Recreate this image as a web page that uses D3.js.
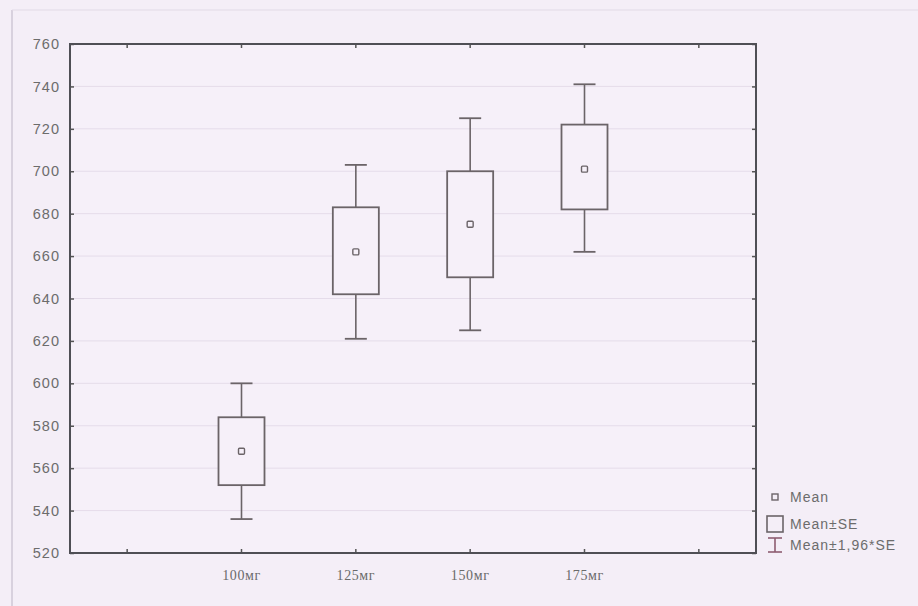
<!DOCTYPE html>
<html>
<head>
<meta charset="utf-8">
<script src="https://cdn.jsdelivr.net/npm/d3@7/dist/d3.min.js"></script>
<style>
  body { margin: 0; background: #f4eef7; }
  svg { display: block; }
</style>
</head>
<body>
<div class="chart"></div>
<script>
// groups and their statistics
const categories = ["100мг", "125мг", "150мг", "175мг"];
const means = [568, 662, 675, 701];
const seLow = [552, 642, 650, 682];
const seHigh = [584, 683, 700, 722];
const ciLow = [536, 621, 625, 662];
const ciHigh = [600, 703, 725, 741];
const yTicks = [520, 540, 560, 580, 600, 620, 640, 660, 680, 700, 720, 740, 760];
const legendLabels = ["Mean", "Mean±SE", "Mean±1,96*SE"];

const w = 918, h = 606;
const margin = { left: 70, top: 44, right: 162, bottom: 53 };
const plotW = w - margin.left - margin.right;
const plotH = h - margin.top - margin.bottom;

// one empty slot either side of the groups
const slots = ["_pre"].concat(categories, ["_post"]);

const xScale = d3.scaleBand().domain(slots).range([0, plotW]);
const yScale = d3.scaleLinear().domain([520, 760]).range([plotH, 0]);

const svg = d3.select(".chart").append("svg")
  .attr("width", w)
  .attr("height", h);

// faint outer frame from the scan
svg.append("line").attr("x1", 12).attr("x2", 12).attr("y1", 10).attr("y2", h)
  .attr("stroke", "#d8d1de").attr("stroke-width", 2);
svg.append("line").attr("x1", 12).attr("x2", w).attr("y1", 10).attr("y2", 10)
  .attr("stroke", "#e1dae6").attr("stroke-width", 1);

const g = svg.append("g").attr("transform", `translate(${margin.left},${margin.top})`);

g.append("rect").attr("width", plotW).attr("height", plotH).attr("fill", "#f6f0f9");

// horizontal grid
g.selectAll(".grid").data(yTicks.slice(1, -1)).enter().append("line")
  .attr("class", "grid")
  .attr("x1", 0).attr("x2", plotW)
  .attr("y1", d => yScale(d)).attr("y2", d => yScale(d))
  .attr("stroke", "#e5dcea").attr("stroke-width", 1);

const cx = c => xScale(c) + xScale.bandwidth() / 2;
const boxW = 46, capW = 22;
const lineCol = "#6b6468";

const groups = g.selectAll(".grp").data(categories).enter().append("g").attr("class", "grp");

// whiskers (mean ± 1.96*SE)
groups.append("line")
  .attr("x1", d => cx(d)).attr("x2", d => cx(d))
  .attr("y1", (d, i) => yScale(ciHigh[i])).attr("y2", (d, i) => yScale(ciLow[i]))
  .attr("stroke", lineCol).attr("stroke-width", 1.6);
[ciHigh, ciLow].forEach(arr => {
  groups.append("line")
    .attr("x1", d => cx(d) - capW / 2).attr("x2", d => cx(d) + capW / 2)
    .attr("y1", (d, i) => yScale(arr[i])).attr("y2", (d, i) => yScale(arr[i]))
    .attr("stroke", lineCol).attr("stroke-width", 1.8);
});

// boxes (mean ± SE)
groups.append("rect")
  .attr("x", d => cx(d) - boxW / 2)
  .attr("width", boxW)
  .attr("y", (d, i) => yScale(seHigh[i]))
  .attr("height", (d, i) => yScale(seLow[i]) - yScale(seHigh[i]))
  .attr("fill", "#f6f0f9")
  .attr("stroke", lineCol).attr("stroke-width", 1.8);

// mean markers
groups.append("rect")
  .attr("x", d => cx(d) - 3)
  .attr("y", (d, i) => yScale(means[i]) - 3)
  .attr("width", 6).attr("height", 6).attr("rx", 1)
  .attr("fill", "none").attr("stroke", lineCol).attr("stroke-width", 1.4);

// axes, ticks pointing inward, mirrored on top and right
const xAxis = d3.axisBottom(xScale).tickSize(-4).tickPadding(17)
  .tickFormat(d => categories.includes(d) ? d : "");
const yAxis = d3.axisLeft(yScale).tickValues(yTicks).tickSize(-4).tickPadding(10);

const xg = g.append("g").attr("transform", `translate(0,${plotH})`).call(xAxis);
const yg = g.append("g").call(yAxis);
g.append("g").call(d3.axisTop(xScale).tickSize(-4).tickFormat(""));
g.append("g").attr("transform", `translate(${plotW},0)`)
  .call(d3.axisRight(yScale).tickValues(yTicks).tickSize(-4).tickFormat(""));

g.selectAll(".domain").remove();
g.selectAll(".tick line").attr("stroke", "#555").attr("stroke-width", 1.5);

xg.selectAll("text")
  .attr("font-family", "'Liberation Serif', 'DejaVu Serif', serif")
  .attr("font-size", 14).attr("letter-spacing", 0.6).attr("fill", "#6a6a6a");
yg.selectAll("text")
  .attr("font-family", "'Liberation Sans', Arial, sans-serif")
  .attr("font-size", 14.5).attr("letter-spacing", 1).attr("fill", "#6c6c6c");

// plot frame
g.append("rect").attr("width", plotW).attr("height", plotH)
  .attr("fill", "none").attr("stroke", "#4f4f55").attr("stroke-width", 2);

// legend
const lg = svg.append("g").attr("transform", "translate(766,0)");
const legY = [497, 524, 545];
lg.append("rect").attr("x", 6).attr("y", legY[0] - 3).attr("width", 6).attr("height", 6)
  .attr("fill", "none").attr("stroke", lineCol).attr("stroke-width", 1.4);
lg.append("rect").attr("x", 1).attr("y", legY[1] - 8).attr("width", 16).attr("height", 16)
  .attr("fill", "none").attr("stroke", lineCol).attr("stroke-width", 1.6);
const iconCol = "#8d5c70";
lg.append("line").attr("x1", 9).attr("x2", 9).attr("y1", legY[2] - 7).attr("y2", legY[2] + 7)
  .attr("stroke", iconCol).attr("stroke-width", 1.6);
[legY[2] - 7, legY[2] + 7].forEach(yy => {
  lg.append("line").attr("x1", 2).attr("x2", 16).attr("y1", yy).attr("y2", yy)
    .attr("stroke", iconCol).attr("stroke-width", 1.6);
});
lg.selectAll("text").data(legendLabels).enter().append("text")
  .attr("x", 24).attr("y", (d, i) => legY[i] + 5)
  .attr("font-family", "'Liberation Sans', Arial, sans-serif")
  .attr("font-size", 14).attr("letter-spacing", 1).attr("fill", "#6c6c6c")
  .text(d => d);
</script>
</body>
</html>
